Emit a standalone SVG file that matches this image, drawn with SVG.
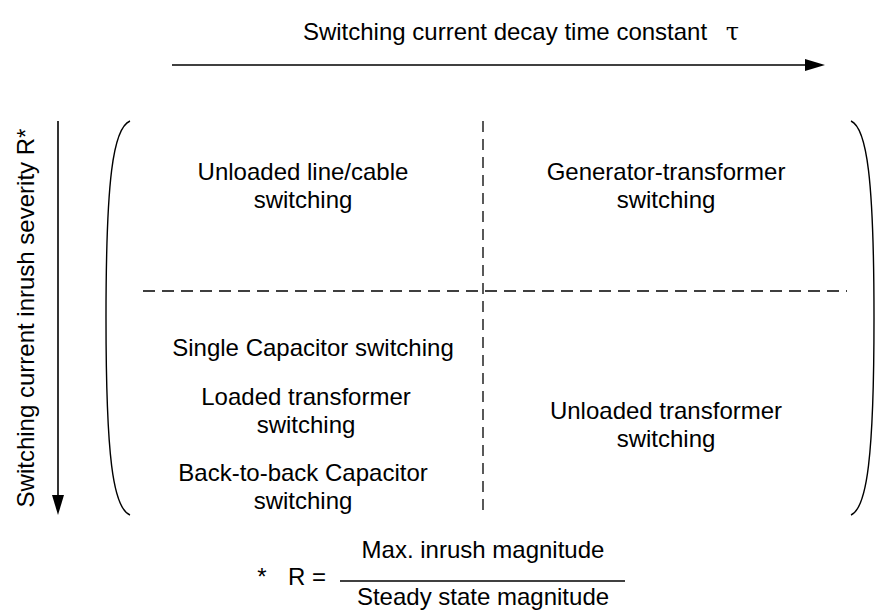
<svg xmlns="http://www.w3.org/2000/svg" width="885" height="613" viewBox="0 0 885 613">
<style>
text{font-family:"Liberation Sans",Arial,sans-serif;font-size:24px;fill:#000;text-anchor:middle}
.axis{stroke:#000;stroke-width:1.6;fill:none}
.paren{stroke:#000;stroke-width:1.4;fill:none}
.dash{stroke:#000;stroke-width:1.3;fill:none;stroke-dasharray:12,7}
.frac{stroke:#000;stroke-width:1.3}
</style>
<defs>
<marker id="ah" viewBox="0 0 20 12" refX="16" refY="6" markerWidth="20" markerHeight="12" markerUnits="userSpaceOnUse" orient="auto">
<path d="M0,0 L20,6 L0,12 z" fill="#000"/>
</marker>
</defs>
<rect width="885" height="613" fill="#fff"/>
<g id="title">
<text x="521" y="40">Switching current decay time constant <tspan dx="12" font-family="'DejaVu Serif',serif">τ</tspan></text>
</g>
<g id="y-label">
<text transform="translate(34,318) rotate(-90)">Switching current inrush severity R*</text>
</g>
<g id="connectors">
<line class="axis" x1="172" y1="65" x2="821" y2="65" marker-end="url(#ah)"/>
<line class="axis" x1="58" y1="121" x2="58" y2="511" marker-end="url(#ah)"/>
</g>
<g id="brackets">
<path class="paren" d="M130,121 C113,128 106,180 106,318 C106,456 113,508 130,515"/>
<path class="paren" d="M851,121 C867,128 874,180 874,318 C874,456 867,508 851,515"/>
<line class="dash" x1="143" y1="291" x2="847" y2="291"/>
<line class="dash" x1="483" y1="121" x2="483" y2="515" style="stroke-dasharray:11,7"/>
</g>
<g id="q-top-left">
<text x="303" y="180">Unloaded line/cable</text>
<text x="303" y="208">switching</text>
</g>
<g id="q-top-right">
<text x="666" y="180">Generator-transformer</text>
<text x="666" y="208">switching</text>
</g>
<g id="q-bottom-left">
<text x="313" y="356">Single Capacitor switching</text>
<text x="306" y="405">Loaded transformer</text>
<text x="306" y="433">switching</text>
<text x="303" y="481">Back-to-back Capacitor</text>
<text x="303" y="509">switching</text>
</g>
<g id="q-bottom-right">
<text x="666" y="419">Unloaded transformer</text>
<text x="666" y="447">switching</text>
</g>
<g id="footnote">
<text x="262" y="585">*</text>
<text x="307" y="585">R =</text>
<line class="frac" x1="340" y1="581" x2="625" y2="581"/>
<text x="483" y="558">Max. inrush magnitude</text>
<text x="483" y="605">Steady state magnitude</text>
</g>
</svg>
